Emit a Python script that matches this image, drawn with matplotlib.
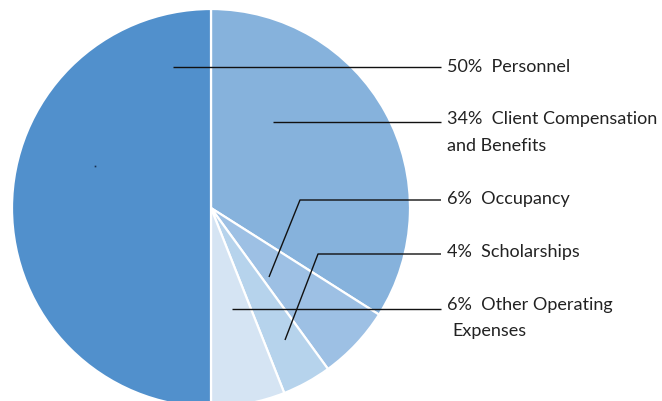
import matplotlib
matplotlib.use("Agg")
import matplotlib.pyplot as plt

# Data (clockwise from 12 o'clock)
categories = ["Client Compensation\nand Benefits", "Occupancy", "Scholarships",
              "Other Operating\n Expenses", "Personnel"]
values = [34, 6, 4, 6, 50]
colors = ["#86b2dc", "#9dc0e4", "#b6d3ec", "#d5e4f3", "#5190cc"]

W, H = 662, 402
fig = plt.figure(figsize=(W / 100, H / 100), dpi=100)
ax = fig.add_axes([0, 0, 1, 1])

cx, cy, R = 211, H - 209, 199
ax.pie(values, colors=colors, startangle=90, counterclock=False,
       center=(cx, cy), radius=R,
       wedgeprops=dict(edgecolor="white", linewidth=1.6))
ax.set_xlim(0, W)
ax.set_ylim(0, H)
ax.set_aspect("auto")
ax.axis("off")

def Y(py):
    return H - py

label_font = dict(family=["Lato", "DejaVu Sans"], fontsize=13, color="#222222",
                  fontweight="normal")
layout = [
    ((173, 68), None, 68, 67, "50%  Personnel"),
    ((273, 123), None, 123, 119, "34%  Client Compensation"),
    ((269, 278), (300, 201), 201, 199, "6%  Occupancy"),
    ((285, 341), (318, 255), 255, 252, "4%  Scholarships"),
    ((232, 310), None, 310, 305, "6%  Other Operating"),
]
line_end = 441
for anchor, bend, ly, ty, text in layout:
    xs = [anchor[0]]
    ys = [Y(anchor[1])]
    if bend is not None:
        xs.append(bend[0]); ys.append(Y(bend[1]))
    xs.append(line_end); ys.append(Y(ly))
    ax.plot(xs, ys, color="#111111", lw=1.0, solid_capstyle="butt")
    ax.text(447, Y(ty), text, ha="left", va="center", **label_font)

ax.text(447, Y(146), "and Benefits", ha="left", va="center", **label_font)
ax.text(452, Y(331), "Expenses", ha="left", va="center", **label_font)

# tiny stray mark inside the personnel wedge
ax.plot([95], [Y(167)], marker="s", ms=1.2, color="#1a3050", mew=0)

fig.savefig("out.png", dpi=100)
